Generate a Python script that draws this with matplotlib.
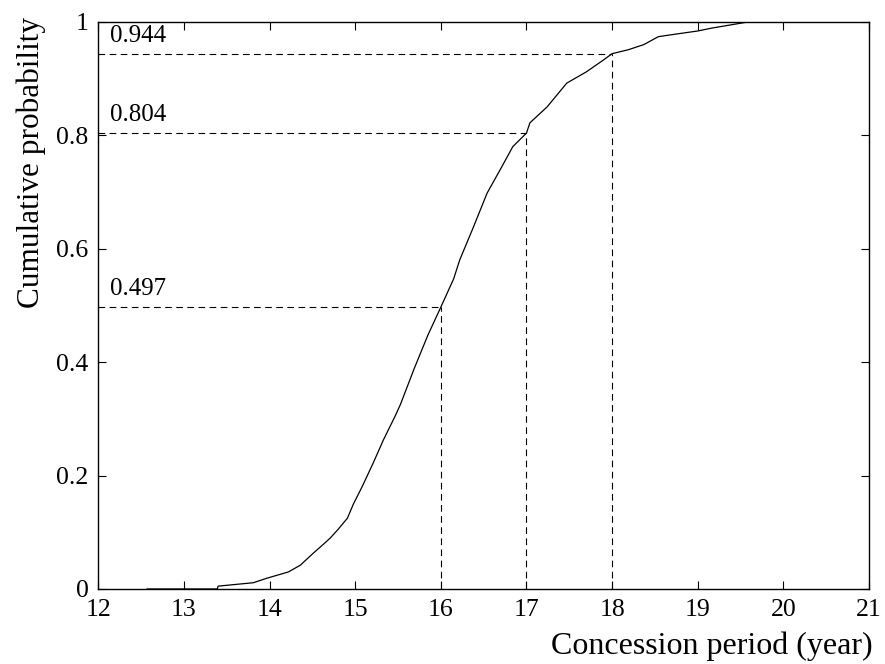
import numpy as np
import matplotlib.pyplot as plt

period = [12.57, 13.39, 13.40, 13.81, 13.97, 14.22, 14.36, 14.51, 14.63, 14.71,
          14.80, 14.91, 14.98, 15.08, 15.21, 15.33, 15.47, 15.53, 15.69, 15.85,
          16.00, 16.15, 16.22, 16.38, 16.54, 16.71, 16.84, 17.00, 17.04, 17.24,
          17.47, 17.70, 17.90, 18.00, 18.19, 18.37, 18.54, 18.72, 19.00, 19.16,
          19.59]
cum_prob = [0.0, 0.0, 0.005, 0.011, 0.019, 0.030, 0.042, 0.063, 0.079, 0.090,
            0.105, 0.125, 0.150, 0.180, 0.222, 0.263, 0.306, 0.326, 0.389, 0.448,
            0.497, 0.547, 0.580, 0.638, 0.698, 0.744, 0.780, 0.804, 0.822, 0.850,
            0.892, 0.912, 0.933, 0.944, 0.951, 0.960, 0.974, 0.978, 0.984, 0.989,
            1.0]

mark_x = [16, 17, 18]
mark_p = [0.497, 0.804, 0.944]

plt.rcParams['font.family'] = 'Liberation Serif'

fig = plt.figure(figsize=(8.85, 6.64), dpi=100)
ax = fig.add_axes([0.111, 0.113, 0.871, 0.854])

ax.plot(period, cum_prob, color='black', lw=0.9)

for xm, pm in zip(mark_x, mark_p):
    ax.plot([12, xm], [pm, pm], color='black', lw=0.8, dashes=(6, 4))
    ax.plot([xm, xm], [0, pm], color='black', lw=0.8, dashes=(6, 4))
    ax.text(12.14, pm + 0.012, '{0:.3f}'.format(pm), fontsize=18, ha='left', va='bottom')

ax.set_xlim(12, 21)
ax.set_ylim(0, 1)
ax.set_xticks(range(12, 22))
ax.set_yticks([0, 0.2, 0.4, 0.6, 0.8, 1])
ax.set_yticklabels(['0', '0.2', '0.4', '0.6', '0.8', '1'])
ax.tick_params(direction='in', length=6, width=0.8, top=True, right=True,
               labelsize=18.5)
ax.tick_params(axis='x', pad=7)
ax.tick_params(axis='y', pad=7)
for s in ax.spines.values():
    s.set_linewidth(1.0)

fig.text(0.986, 0.005, 'Concession period (year)', fontsize=23, ha='right', va='bottom')
fig.text(0.035, 0.975, 'Cumulative probability', fontsize=22.5, rotation=90,
         ha='center', va='top')

plt.savefig('out.png', dpi=100)
